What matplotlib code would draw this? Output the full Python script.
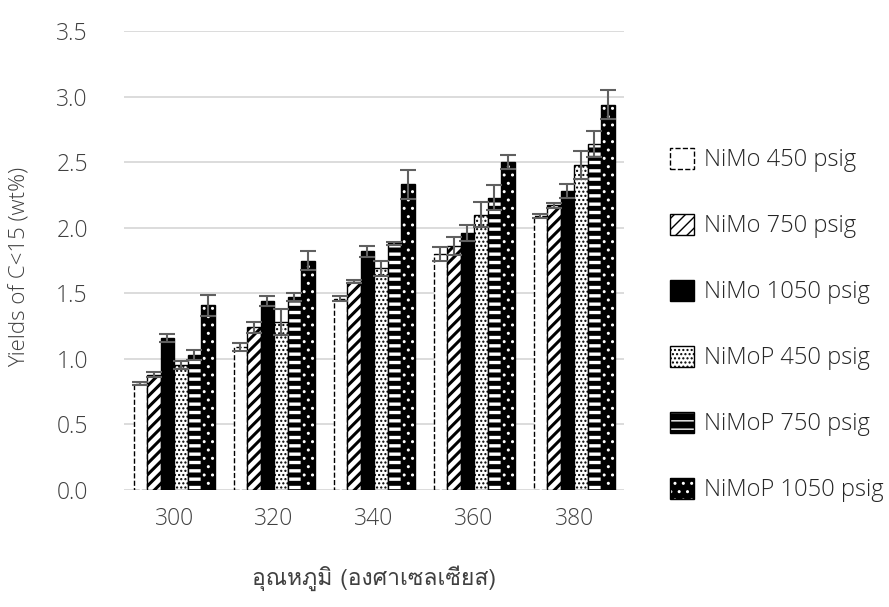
import numpy as np
import matplotlib
matplotlib.use("Agg")
import matplotlib.pyplot as plt
from matplotlib.patches import Patch
from matplotlib import font_manager
from matplotlib.font_manager import FontProperties
from matplotlib.ft2font import FT2Font

temps = ['300', '320', '340', '360', '380']

nimo450 = [0.81, 1.09, 1.46, 1.80, 2.09]
nimo450_err = [0.01, 0.03, 0.02, 0.05, 0.015]
nimo750 = [0.88, 1.24, 1.59, 1.86, 2.17]
nimo750_err = [0.02, 0.04, 0.01, 0.07, 0.02]
nimo1050 = [1.16, 1.44, 1.82, 1.96, 2.28]
nimo1050_err = [0.03, 0.04, 0.04, 0.06, 0.055]
nimop450 = [0.95, 1.28, 1.69, 2.10, 2.48]
nimop450_err = [0.03, 0.10, 0.06, 0.095, 0.105]
nimop750 = [1.03, 1.47, 1.88, 2.23, 2.64]
nimop750_err = [0.04, 0.03, 0.01, 0.095, 0.10]
nimop1050 = [1.41, 1.75, 2.33, 2.50, 2.94]
nimop1050_err = [0.08, 0.07, 0.11, 0.055, 0.11]

labels = ['NiMo 450 psig', 'NiMo 750 psig', 'NiMo 1050 psig',
          'NiMoP 450 psig', 'NiMoP 750 psig', 'NiMoP 1050 psig']
series = [nimo450, nimo750, nimo1050, nimop450, nimop750, nimop1050]
errs = [nimo450_err, nimo750_err, nimo1050_err, nimop450_err, nimop750_err, nimop1050_err]


def weight_num(wt):
    if isinstance(wt, str):
        return font_manager.weight_dict.get(wt, 400)
    return wt


# pick the lightest upright installed font file that has Thai glyphs
thai_path = None
best = None
for f in font_manager.fontManager.ttflist:
    if f.style != 'normal':
        continue
    try:
        if not FT2Font(f.fname).get_char_index(0x0E2D):
            continue
    except Exception:
        continue
    score = abs(weight_num(f.weight) - 350)
    if best is None or score < best:
        best = score
        thai_path = f.fname

plt.rcParams['font.family'] = ['Open Sans', 'DejaVu Sans']
plt.rcParams['font.weight'] = 'light'
txt = '#404040'

# bar styles: face, edge/hatch colour, hatch, linestyle, hatch lw, needs outline
styles = [
    dict(fc='white', ec='black', hatch=None, ls='--', hlw=1.0, outline=False),
    dict(fc='white', ec='black', hatch='///', ls='-', hlw=2.2, outline=False),
    dict(fc='black', ec='black', hatch=None, ls='-', hlw=1.0, outline=False),
    dict(fc='white', ec='black', hatch='....', ls='-', hlw=1.0, outline=False),
    dict(fc='black', ec='white', hatch='--', ls='-', hlw=2.4, outline=True),
    dict(fc='black', ec='white', hatch='..', ls='-', hlw=1.0, outline=True),
]

fig = plt.figure(figsize=(8.89, 6.07), dpi=100)
ax = fig.add_axes([0.1395, 0.1928, 0.5625, 0.756])

x = np.arange(len(temps))
w = 0.135
handles = []
for i, (vals, e, st) in enumerate(zip(series, errs, styles)):
    pos = x + (i - 2.5) * w
    with plt.rc_context({'hatch.linewidth': st['hlw']}):
        if st['outline']:
            ax.bar(pos, vals, w, color=st['fc'], edgecolor=st['ec'], hatch=st['hatch'],
                   linewidth=0, zorder=2)
            ax.bar(pos, vals, w, fill=False, edgecolor='black', linewidth=1, zorder=2.1)
            h = (Patch(facecolor=st['fc'], edgecolor=st['ec'], hatch=st['hatch'], linewidth=0),
                 Patch(fill=False, edgecolor='black', linewidth=1))
        else:
            ax.bar(pos, vals, w, color=st['fc'], edgecolor=st['ec'], hatch=st['hatch'],
                   linestyle=st['ls'], linewidth=1, zorder=2)
            h = Patch(facecolor=st['fc'], edgecolor=st['ec'], hatch=st['hatch'],
                      linestyle=st['ls'], linewidth=1)
    handles.append(h)
    ax.errorbar(pos, vals, yerr=e, fmt='none', ecolor='#606060', elinewidth=1.5,
                capsize=6, capthick=1.5, zorder=3)

ax.set_ylim(0, 3.5)
ax.set_xlim(-0.5, len(temps) - 0.5)
ax.set_yticks(np.arange(0, 3.51, 0.5))
ax.set_yticklabels([f'{v:.1f}' for v in np.arange(0, 3.51, 0.5)])
ax.set_xticks(x)
ax.set_xticklabels(temps)
ax.tick_params(length=0, labelsize=16.5, labelcolor=txt)
ax.tick_params(axis='x', pad=12)
ax.tick_params(axis='y', pad=26)
ax.yaxis.grid(True, color='#d9d9d9', linewidth=1.3, zorder=0)
ax.set_axisbelow(True)
for s in ax.spines.values():
    s.set_visible(False)

fig.text(0.023, 0.56, 'Yields of C<15 (wt%)', rotation=90, ha='center', va='center',
         fontsize=16, color=txt)
if thai_path:
    xl_font = FontProperties(fname=thai_path, size=16.5)
else:
    xl_font = FontProperties(family='DejaVu Sans', size=16.5)
fig.text(0.421, 0.048, 'อุณหภูมิ (องศาเซลเซียส)', ha='center', va='center',
         color=txt, fontproperties=xl_font)

fig.legend(handles, labels, loc='center left', bbox_to_anchor=(0.7537, 0.4646),
           frameon=False, fontsize=17, labelcolor='#262626', handlelength=1.0,
           handleheight=1.0, handletextpad=0.42, labelspacing=1.75,
           borderpad=0, borderaxespad=0)

fig.savefig('out.png', dpi=100)
